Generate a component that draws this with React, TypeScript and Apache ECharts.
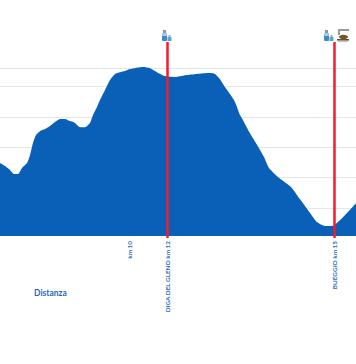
import React, { useEffect, useRef } from "react";
import * as echarts from "echarts";

// Distance units along the (non-linear) route axis
const distances = [0,5,10,14,18,22,27,30,33,36,40,45,50,55,60,65,70,75,80,85,90,93,97,100,105,110,115,120,125,130,143,150,157,165,175,185,197,210,215,220,225,230,235,240,243,251,259,264,269,278,291,299,303,310,317,325,332,338,347,356];
const elevations = [1248,1238,1225,1212,1212,1232,1248,1274,1314,1340,1353,1360,1370,1383,1393,1393,1386,1380,1366,1366,1380,1406,1432,1455,1488,1521,1541,1547,1551,1557,1564,1560,1547,1534,1531,1537,1541,1544,1541,1524,1498,1475,1449,1406,1389,1340,1297,1268,1232,1202,1169,1133,1116,1084,1054,1041,1041,1054,1084,1116];

const tickValues = [129, 167, 334];
const tickLabels = ["km 10", "DIGA DEL GLENO km 12", "BUEGGIO km 15"];
const markerValues = [167, 334];
const gridValues = [1100, 1200, 1300, 1400, 1500, 1560];
const yMin = 1008;
const yMax = 1587;

const BLUE = "#0a5fb7";
const RED = "#f51a2e";
const TEXT = "#1f68c0";

const bottle = (x: number) => [
  { type: "rect", shape: { x: x - 4, y: 33, width: 5, height: 8, r: 1 }, style: { fill: "#3a8cc8" } },
  { type: "rect", shape: { x: x - 4, y: 33, width: 5, height: 3, r: 1 }, style: { fill: "#a9cbe2" } },
  { type: "rect", shape: { x: x - 3, y: 30, width: 3, height: 3 }, style: { fill: "#8a98a2" } },
  { type: "rect", shape: { x: x + 1.5, y: 37, width: 4, height: 4, r: 0.5 }, style: { fill: "#5aa3d6" } },
  { type: "rect", shape: { x: x + 2.5, y: 35, width: 2, height: 2 }, style: { fill: "#9aacb8" } },
];

const food = [
  { type: "rect", shape: { x: 338, y: 29, width: 11, height: 2 }, style: { fill: "#9a9a92" } },
  { type: "rect", shape: { x: 338, y: 29, width: 2, height: 6 }, style: { fill: "#9a9a92" } },
  { type: "ellipse", shape: { cx: 343.5, cy: 37, rx: 4.5, ry: 2.2 }, style: { fill: "#7a5522" } },
  { type: "rect", shape: { x: 337, y: 39, width: 12, height: 1.6 }, style: { fill: "#55524a" } },
  { type: "rect", shape: { x: 338, y: 41, width: 10, height: 1.2 }, style: { fill: "#c9c9c0" } },
];

export default function App() {
  const ref = useRef<HTMLDivElement>(null);
  useEffect(() => {
    document.body.style.margin = "0";
    const chart = echarts.init(ref.current!, undefined, { renderer: "svg" });
    chart.setOption({
      animation: false,
      grid: { left: 0, right: 0, top: 60, bottom: 128 },
      xAxis: {
        type: "value",
        min: 0,
        max: 356,
        axisLine: { show: false },
        axisTick: { show: false },
        splitLine: { show: false },
        axisLabel: {
          customValues: tickValues,
          rotate: 90,
          margin: 5,
          fontFamily: "Lato",
          fontWeight: "bold",
          fontSize: 6.4,
          color: TEXT,
          formatter: (v: number) => tickLabels[tickValues.indexOf(v)] ?? "",
        },
      },
      yAxis: {
        type: "value",
        min: yMin,
        max: yMax,
        show: false,
        splitLine: { show: false },
      },
      series: [
        {
          type: "line",
          data: distances.map((d, i) => [d, elevations[i]]),
          symbol: "none",
          smooth: 0.2,
          lineStyle: { width: 0 },
          areaStyle: { color: BLUE, opacity: 1, origin: "start" },
          z: 3,
          markLine: {
            silent: true,
            symbol: "none",
            z: 1,
            label: { show: false },
            lineStyle: { color: "#e6e6e6", width: 1, type: "solid" },
            data: gridValues.map((v) => ({ yAxis: v })),
          },
        },
        {
          type: "line",
          data: [],
          z: 5,
          markLine: {
            silent: true,
            symbol: "none",
            label: { show: false },
            lineStyle: { color: RED, width: 2.5, type: "solid" },
            z: 5,
            data: markerValues.map((x) => [
              { coord: [x, yMin], y: 238 },
              { coord: [x, yMax], y: 42 },
            ]),
          },
        },
      ],
      graphic: [
        {
          type: "text",
          x: 34,
          y: 288,
          style: { text: "Distanza", fontFamily: "Lato", fontWeight: "bold", fontSize: 8.5, fill: TEXT },
        },
        ...bottle(166),
        ...bottle(328),
        ...food,
      ],
    });
    return () => chart.dispose();
  }, []);
  return <div ref={ref} style={{ width: 356, height: 364 }} />;
}
